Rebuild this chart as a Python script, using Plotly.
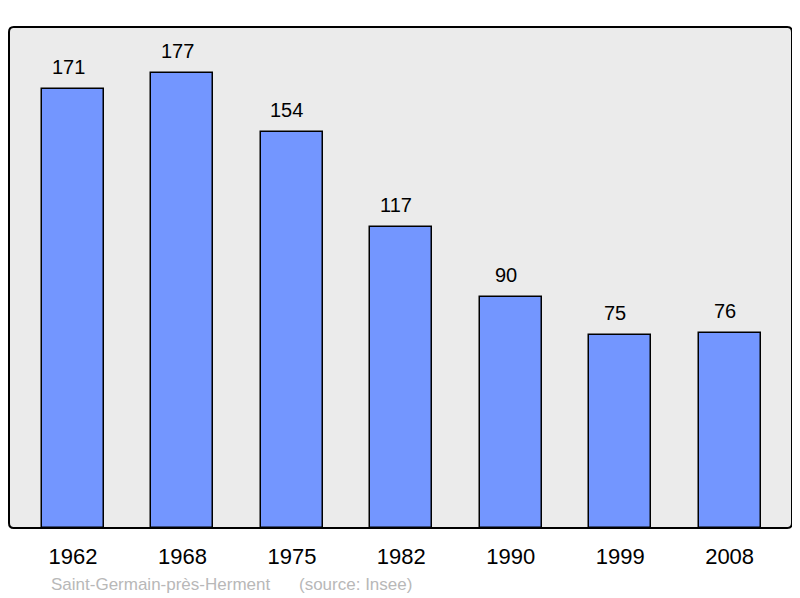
import plotly.graph_objects as go

years = ["1962", "1968", "1975", "1982", "1990", "1999", "2008"]
population = [171, 177, 154, 117, 90, 75, 76]
place = "Saint-Germain-près-Herment"
source = "(source: Insee)"

idx = list(range(len(years)))

fig = go.Figure()
fig.add_trace(go.Bar(
    x=idx, y=population,
    width=0.567,
    marker=dict(color="#7396ff", line=dict(color="#000000", width=1.5)),
    hoverinfo="skip",
))

for i, v in zip(idx, population):
    fig.add_annotation(x=i, y=v, text=str(v), showarrow=False,
                       yanchor="middle", yshift=22, xshift=-5,
                       font=dict(family="Liberation Sans", size=20, color="#000"))

# rounded plot-area frame
fig.add_shape(type="path", xref="paper", yref="paper",
              path="M 0.006 0 L 0.994 0 Q 1 0 1 0.01 L 1 0.99 Q 1 1 0.994 1 L 0.006 1 Q 0 1 0 0.99 L 0 0.01 Q 0 0 0.006 0 Z",
              fillcolor="#ebebeb", line=dict(color="#000", width=2), layer="below")

fig.add_annotation(xref="paper", yref="paper", x=0.0511, y=-0.1118, xanchor="left", yanchor="middle",
                   text=place, showarrow=False,
                   font=dict(family="Liberation Sans", size=17, color="#b8b8b8"))
fig.add_annotation(xref="paper", yref="paper", x=0.3677, y=-0.1118, xanchor="left", yanchor="middle",
                   text=source, showarrow=False,
                   font=dict(family="Liberation Sans", size=17, color="#b8b8b8"))

fig.update_layout(
    width=786, height=590,
    margin=dict(l=1, r=2, t=19, b=70),
    paper_bgcolor="white", plot_bgcolor="rgba(0,0,0,0)",
    showlegend=False,
    bargap=0,
    xaxis=dict(range=[-0.585, 6.57], showgrid=False, zeroline=False, showline=False,
               tickmode="array", tickvals=idx, ticktext=years,
               ticks="outside", ticklen=9, tickcolor="rgba(0,0,0,0)",
               tickfont=dict(family="Liberation Sans", size=22, color="#000")),
    yaxis=dict(range=[0, 195], showgrid=False, zeroline=False, showline=False,
               showticklabels=False, ticks=""),
)

fig.write_html("out.html")
